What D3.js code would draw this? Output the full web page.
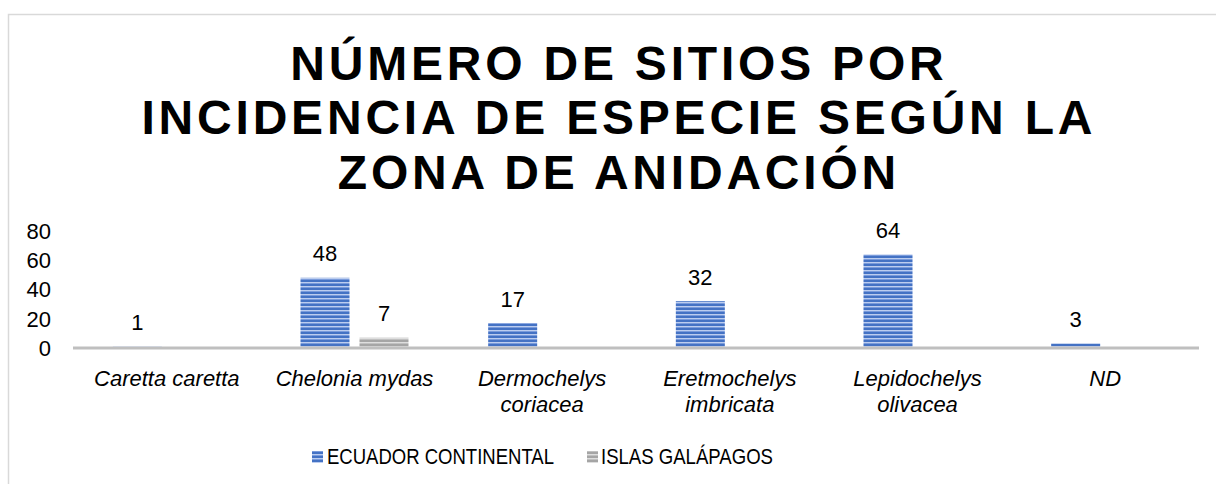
<!DOCTYPE html>
<html>
<head>
<meta charset="utf-8">
<script src="https://cdn.jsdelivr.net/npm/d3@7"></script>
<style>
  html, body { margin: 0; padding: 0; background: #fff; }
  svg { display: block; font-family: "Liberation Sans", Arial, sans-serif; }
</style>
</head>
<body>
<svg id="chart" width="1216" height="484"></svg>
<script>
// ---- data ----
const titleLines = ["NÚMERO DE SITIOS POR", "INCIDENCIA DE ESPECIE SEGÚN LA", "ZONA DE ANIDACIÓN"];
const categories = ["Caretta caretta", "Chelonia mydas", "Dermochelys coriacea", "Eretmochelys imbricata", "Lepidochelys olivacea", "ND"];
const seriesNames = ["ECUADOR CONTINENTAL", "ISLAS GALÁPAGOS"];
const ecuadorValues = [1, 48, 17, 32, 64, 3];
const galapagosValues = [null, 7, null, null, null, null];
const yTicks = [0, 20, 40, 60, 80];

// ---- layout ----
const W = 1216, H = 484;
const plot = { left: 73, right: 1199, top: 231, bottom: 348 };
const svg = d3.select("#chart");
const fs = 22;

// defs: striped patterns
const defs = svg.append("defs");
function stripePattern(id, base, light, mid) {
  const p = defs.append("pattern").attr("id", id).attr("patternUnits", "userSpaceOnUse")
    .attr("width", 8).attr("height", 4);
  p.append("rect").attr("width", 8).attr("height", 4).attr("fill", base);
  p.append("rect").attr("y", 2).attr("width", 8).attr("height", 1).attr("fill", light);
  p.append("rect").attr("y", 3).attr("width", 8).attr("height", 1).attr("fill", mid);
}
stripePattern("stripeBlue", "#4472c4", "#bccdef", "#7a9bdb");
stripePattern("stripeGray", "#a5a5a5", "#dedede", "#c0c0c0");
const fills = ["url(#stripeBlue)", "url(#stripeGray)"];

// frame (cropped chart border)
svg.append("rect").attr("x", 8.5).attr("y", 14.5).attr("width", W + 20).attr("height", H + 20)
  .attr("fill", "none").attr("stroke", "#d9d9d9").attr("stroke-width", 1.5);

// title
const titleG = svg.append("g");
const titleSize = 48;
const titleBaselines = [80, 134, 189];
const titleCenter = 617;
const tt = titleG.selectAll("text").data(titleLines).join("text")
  .attr("x", titleCenter).attr("y", (d, i) => titleBaselines[i])
  .attr("text-anchor", "middle")
  .attr("font-size", titleSize).attr("font-weight", "bold").attr("fill", "#000")
  .text(d => d);
const longest = tt.nodes()[1];
const w0 = longest.getComputedTextLength();
const ls = Math.max(0, (951 - w0) / (titleLines[1].length - 1));
tt.style("letter-spacing", ls + "px").attr("x", titleCenter + ls / 2);

// scales
const x0 = d3.scaleBand().domain(categories).range([plot.left, plot.right]).paddingInner(0).paddingOuter(0);
const barW = 49, gap = 10;
const x1 = d3.scaleOrdinal().domain([0, 1]).range([-(barW + gap / 2), gap / 2]);
const y = d3.scaleLinear().domain([0, 80]).range([plot.bottom, plot.top]);

// y tick labels
svg.append("g").selectAll("text").data(yTicks).join("text")
  .attr("x", 51).attr("y", d => y(d)).attr("dy", "0.36em")
  .attr("text-anchor", "end").attr("font-size", fs).attr("fill", "#000")
  .text(d => d);

// bars
const seriesData = [ecuadorValues, galapagosValues];
seriesData.forEach((vals, s) => {
  const items = categories.map((c, i) => ({ c, v: vals[i] })).filter(d => d.v != null);
  const g = svg.append("g");
  g.selectAll("rect").data(items).join("rect")
    .attr("x", d => x0(d.c) + x0.bandwidth() / 2 + x1(s))
    .attr("y", d => y(d.v))
    .attr("width", barW)
    .attr("height", d => y(0) - y(d.v))
    .attr("fill", fills[s]);
  g.selectAll("text").data(items).join("text")
    .attr("x", d => x0(d.c) + x0.bandwidth() / 2 + x1(s) + barW / 2)
    .attr("y", d => y(d.v) - 16.5)
    .attr("text-anchor", "middle").attr("font-size", fs).attr("fill", "#000")
    .text(d => d.v);
});

// x axis line
svg.append("line").attr("x1", plot.left).attr("x2", plot.right)
  .attr("y1", y(0)).attr("y2", y(0))
  .attr("stroke", "#bfbfbf").attr("stroke-width", 3);

// category labels (wrapped)
const catG = svg.append("g");
categories.forEach(c => {
  const t = catG.append("text")
    .attr("x", x0(c) + x0.bandwidth() / 2).attr("y", 386)
    .attr("text-anchor", "middle").attr("font-size", fs).attr("font-style", "italic").attr("fill", "#000")
    .text(c);
  if (t.node().getComputedTextLength() > x0.bandwidth() - 8 && c.includes(" ")) {
    const parts = c.split(" ");
    t.text(null);
    parts.forEach((p, i) => {
      t.append("tspan").attr("x", x0(c) + x0.bandwidth() / 2).attr("dy", i === 0 ? 0 : 26).text(p);
    });
  }
});

// legend
const legendItems = [
  { name: seriesNames[0], fill: fills[0], sx: 312, tx: 327, w: 227 },
  { name: seriesNames[1], fill: fills[1], sx: 587, tx: 601, w: 172 }
];
const lg = svg.append("g");
legendItems.forEach(d => {
  lg.append("rect").attr("x", d.sx).attr("y", 451).attr("width", 11).attr("height", 12).attr("fill", d.fill);
  lg.append("text").attr("x", d.tx).attr("y", 464)
    .attr("font-size", fs).attr("fill", "#000")
    .attr("textLength", d.w).attr("lengthAdjust", "spacingAndGlyphs")
    .text(d.name);
});
</script>
</body>
</html>
